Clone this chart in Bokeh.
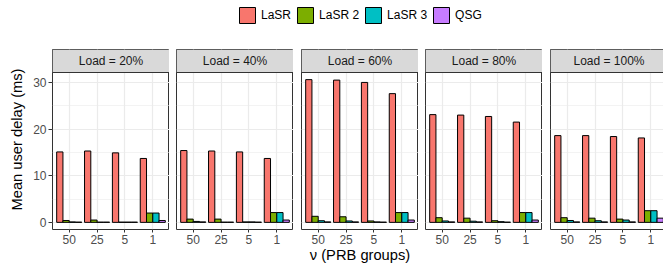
from bokeh.plotting import figure
from bokeh.layouts import row, column
from bokeh.models import (Range1d, FixedTicker, BoxAnnotation, Span, Label,
                          Legend, LegendItem, GlobalInlineStyleSheet)
from bokeh.embed import file_html
from bokeh.resources import INLINE

# ---------------- data ----------------
groups = ["50", "25", "5", "1"]
loads = ["20%", "40%", "60%", "80%", "100%"]
series = ["LaSR", "LaSR 2", "LaSR 3", "QSG"]
colors = ["#F8766D", "#7CAE00", "#00BFC4", "#C77CFF"]

# values per load (rows) and per group (columns)
lasr = [[15.1, 15.3, 14.9, 13.7],
        [15.4, 15.3, 15.1, 13.7],
        [30.6, 30.5, 30.0, 27.6],
        [23.1, 23.0, 22.7, 21.5],
        [18.6, 18.6, 18.4, 18.1]]
lasr2 = [[0.4, 0.5, 0.05, 2.0],
         [0.7, 0.7, 0.1, 2.1],
         [1.3, 1.2, 0.3, 2.1],
         [1.0, 0.9, 0.35, 2.1],
         [1.0, 0.9, 0.7, 2.5]]
lasr3 = [[0.1, 0.05, 0.05, 2.0],
         [0.2, 0.05, 0.1, 2.1],
         [0.35, 0.3, 0.1, 2.1],
         [0.3, 0.25, 0.15, 2.1],
         [0.4, 0.35, 0.5, 2.5]]
qsg = [[0.05, 0.05, 0.05, 0.4],
       [0.1, 0.05, 0.05, 0.5],
       [0.1, 0.1, 0.05, 0.5],
       [0.1, 0.1, 0.05, 0.5],
       [0.1, 0.1, 0.1, 0.9]]
y_ticks = [0, 10, 20, 30]
y_minor = [5, 15, 25]

all_series = [lasr, lasr2, lasr3, qsg]

# ---------------- styling ----------------
FONT = "Liberation Sans"
GRID = "#EBEBEB"
BORDER = "#333333"
STRIP = "#D9D9D9"
TICKTXT = "#4D4D4D"

top_val = max(max(r) for s in all_series for r in s)
ymin = -0.05 * top_val
ymax = 1.05 * top_val
panel_h = 157
strip_h = 23
unit = (ymax - ymin) / panel_h
yend = ymax + strip_h * unit

n_ser = len(series)
dodge = 0.9
bw = dodge / n_ser
offsets = [-dodge / 2 + bw / 2 + k * bw for k in range(n_ser)]
xpos = list(range(1, len(groups) + 1))

lefts = [52, 7, 8, 7, 8]
frame_w = 117

panels = []
for li, load in enumerate(loads):
    p = figure(frame_width=frame_w, frame_height=panel_h + strip_h,
               x_range=Range1d(0.4, len(groups) + 0.6),
               y_range=Range1d(ymin, yend),
               output_backend="svg", toolbar_location=None,
               min_border_left=lefts[li], min_border_right=0,
               min_border_top=0, min_border_bottom=38)
    p.background_fill_color = "white"
    p.border_fill_color = "white"
    p.outline_line_color = BORDER
    p.outline_line_width = 1
    p.outline_line_alpha = 1

    for k in range(n_ser):
        vals = all_series[k][li]
        p.vbar(x=[x + offsets[k] for x in xpos], top=vals, bottom=0,
               width=bw, fill_color=colors[k], line_color="black",
               line_width=1)

    # axes
    p.xaxis.ticker = FixedTicker(ticks=xpos)
    p.xaxis.major_label_overrides = {x: g for x, g in zip(xpos, groups)}
    p.xaxis.axis_line_color = None
    p.xaxis.major_tick_line_color = BORDER
    p.xaxis.major_tick_out = 3
    p.xaxis.major_tick_in = 0
    p.xaxis.minor_tick_line_color = None
    p.xaxis.major_label_standoff = 2
    p.xaxis.major_label_text_font = FONT
    p.xaxis.major_label_text_font_size = "12px"
    p.xaxis.major_label_text_color = TICKTXT
    if li == 2:
        p.xaxis.axis_label = "\u03bd (PRB groups)"
        p.xaxis.axis_label_text_font = FONT
        p.xaxis.axis_label_text_font_size = "14.7px"
        p.xaxis.axis_label_text_font_style = "normal"
        p.xaxis.axis_label_text_color = "black"
        p.xaxis.axis_label_standoff = 0

    yt = FixedTicker(ticks=y_ticks, minor_ticks=y_minor)
    p.yaxis.ticker = yt
    p.ygrid.ticker = yt
    p.xgrid.ticker = FixedTicker(ticks=xpos)
    if li == 0:
        p.yaxis.axis_line_color = None
        p.yaxis.major_tick_line_color = BORDER
        p.yaxis.major_tick_out = 4
        p.yaxis.major_tick_in = 0
        p.yaxis.minor_tick_line_color = None
        p.yaxis.major_label_standoff = 2
        p.yaxis.major_label_text_font = FONT
        p.yaxis.major_label_text_font_size = "12px"
        p.yaxis.major_label_text_color = TICKTXT
        p.yaxis.axis_label = "Mean user delay (ms)"
        p.yaxis.axis_label_text_font = FONT
        p.yaxis.axis_label_text_font_size = "14.7px"
        p.yaxis.axis_label_text_font_style = "normal"
        p.yaxis.axis_label_text_color = "black"
        p.yaxis.axis_label_standoff = 5
    else:
        p.yaxis.visible = False

    p.xgrid.grid_line_color = GRID
    p.xgrid.grid_line_width = 1.2
    p.ygrid.grid_line_color = GRID
    p.ygrid.grid_line_width = 1.2
    p.ygrid.minor_grid_line_color = GRID
    p.ygrid.minor_grid_line_width = 0.6

    # facet strip
    p.add_layout(BoxAnnotation(bottom=ymax, fill_color=STRIP, fill_alpha=1,
                               line_color=None))
    p.add_layout(Span(location=ymax, dimension="width", line_color=BORDER,
                      line_width=1))
    p.add_layout(Label(x=(len(groups) + 1) / 2, y=(ymax + yend) / 2,
                       text="Load = " + load, text_align="center",
                       text_baseline="middle", text_font=FONT,
                       text_font_size="12px", text_color="#1A1A1A"))
    panels.append(p)

# ---------------- legend strip ----------------
lg = figure(width=sum(lefts) + frame_w * len(loads), height=49,
            x_range=Range1d(0, 1), y_range=Range1d(1000, 1001),
            output_backend="svg", toolbar_location=None,
            min_border=0, min_border_left=0, min_border_right=0,
            min_border_top=0, min_border_bottom=0)
lg.axis.visible = False
lg.grid.visible = False
lg.outline_line_color = None
lg.background_fill_color = "white"
lg.border_fill_color = "white"
items = []
for k in range(n_ser):
    r = lg.vbar(x=[x + offsets[k] for x in xpos], top=lasr[0], bottom=0,
                width=bw, fill_color=colors[k], line_color="black",
                line_width=1)
    items.append(LegendItem(label=series[k], renderers=[r]))
legend = Legend(items=items, orientation="horizontal", location=(237, 24),
                glyph_width=20, glyph_height=20, label_standoff=4, spacing=4,
                padding=0, margin=0, border_line_color=None,
                background_fill_alpha=0, label_text_font=FONT,
                label_text_font_size="12px", label_text_color="black",
                label_height=20)
lg.add_layout(legend, "center")

layout = column(lg, row(*panels, spacing=0), spacing=0)
layout.stylesheets = [GlobalInlineStyleSheet(
    css="html, body { margin: 0 !important; padding: 0 !important; overflow: hidden !important; }")]

open("out.html", "w").write(file_html(layout, INLINE))
